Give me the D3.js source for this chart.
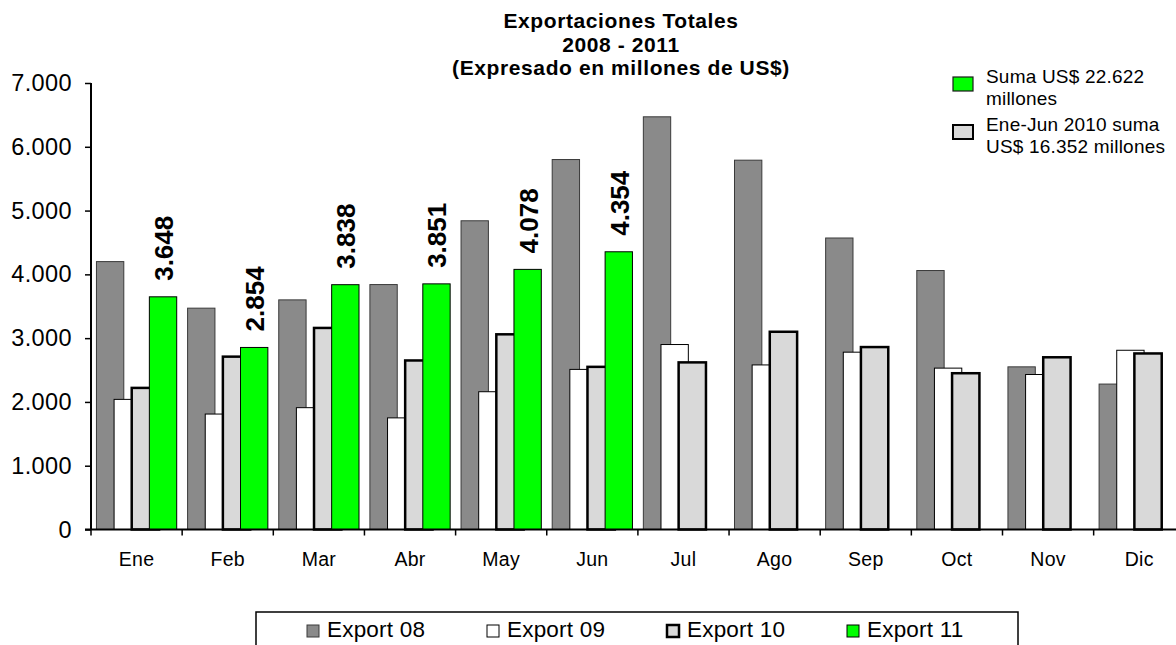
<!DOCTYPE html>
<html>
<head>
<meta charset="utf-8">
<script src="https://cdn.jsdelivr.net/npm/d3@7"></script>
<style>
	body { margin: 0; background: #fff; }
	svg { display: block; font-family: Arial, 'Liberation Sans', sans-serif; }
</style>
</head>
<body>
<svg width="1176" height="645"></svg>
<script>
const months = ['Ene', 'Feb', 'Mar', 'Abr', 'May', 'Jun', 'Jul', 'Ago', 'Sep', 'Oct', 'Nov', 'Dic'];
const series = ['Export 08', 'Export 09', 'Export 10', 'Export 11'];
const export08 = [4200, 3470, 3600, 3840, 4840, 5800, 6470, 5790, 4570, 4060, 2550, 2280];
const export09 = [2040, 1810, 1910, 1750, 2160, 2510, 2900, 2580, 2780, 2530, 2430, 2810];
const export10 = [2220, 2710, 3160, 2650, 3060, 2550, 2620, 3100, 2860, 2450, 2700, 2760];
const export11 = [3648, 2854, 3838, 3851, 4078, 4354, null, null, null, null, null, null];
const yTicks = [0, 1000, 2000, 3000, 4000, 5000, 6000, 7000];
const titleLines = ['Exportaciones Totales', '2008 - 2011', '(Expresado en millones de US$)'];
const noteLines = [['Suma US$ 22.622', 'millones'], ['Ene-Jun 2010 suma', 'US$ 16.352 millones']];

const svg = d3.select('svg');
const fmt = d3.formatLocale({ decimal: ',', thousands: '.', grouping: [3], currency: ['', ''] }).format(',.0f');

const styles = [
	{ fill: '#8a8a8a', stroke: '#3a3a3a', sw: 1 },
	{ fill: '#ffffff', stroke: '#000000', sw: 1 },
	{ fill: '#d9d9d9', stroke: '#000000', sw: 2.5 },
	{ fill: '#00ff00', stroke: '#000000', sw: 1 },
];

const x = d3.scaleBand().domain(months).range([91, 91 + 12 * 91.15]);
const y = d3.scaleLinear().domain([0, 7000]).range([529.5, 83]);

const barW = x.bandwidth() * 0.3;
const step = barW * 0.645;
const groupW = step * 3 + barW;
const offset = (x.bandwidth() - groupW) / 2;

const rows = [export08, export09, export10, export11];

// bars, later series painted over earlier ones
rows.forEach((vals, s) => {
	svg.append('g')
		.selectAll('rect')
		.data(months.map((m, i) => ({ m, v: vals[i] })).filter(d => d.v != null))
		.enter()
		.append('rect')
		.attr('x', d => x(d.m) + offset + s * step)
		.attr('y', d => y(d.v))
		.attr('width', barW)
		.attr('height', d => y(0) - y(d.v))
		.attr('fill', styles[s].fill)
		.attr('stroke', styles[s].stroke)
		.attr('stroke-width', styles[s].sw);
});

// value labels on 2011
svg.append('g')
	.selectAll('text')
	.data(months.map((m, i) => ({ m, v: export11[i] })).filter(d => d.v != null))
	.enter()
	.append('text')
	.attr('transform', d => `translate(${x(d.m) + offset + 3 * step + barW / 2 + 10},${y(d.v) - 16}) rotate(-90)`)
	.attr('font-size', 26)
	.attr('font-weight', 700)
	.text(d => fmt(d.v));

// y axis
const yAxis = svg.append('g')
	.attr('transform', 'translate(91,0)')
	.call(d3.axisLeft(y).tickValues(yTicks).tickFormat(fmt).tickSize(6).tickPadding(13));
yAxis.select('.domain').attr('stroke-width', 2).attr('d', `M0,${y(7000)}V${y(0)}`);
yAxis.selectAll('line').attr('stroke-width', 1.5);
yAxis.selectAll('text')
	.attr('font-size', 23.5)
	.attr('letter-spacing', 0.4)
	.attr('fill', '#000')
	.attr('font-family', 'Arial, Liberation Sans');

// x axis
svg.append('line')
	.attr('x1', 85).attr('x2', 1176)
	.attr('y1', y(0)).attr('y2', y(0))
	.attr('stroke', '#000').attr('stroke-width', 2);

svg.append('g')
	.selectAll('line')
	.data(months)
	.enter()
	.append('line')
	.attr('x1', d => x(d)).attr('x2', d => x(d))
	.attr('y1', y(0)).attr('y2', y(0) + 6)
	.attr('stroke', '#000').attr('stroke-width', 1.5);

svg.append('g')
	.selectAll('text')
	.data(months)
	.enter()
	.append('text')
	.attr('x', d => x(d) + x.bandwidth() / 2)
	.attr('y', 566)
	.attr('text-anchor', 'middle')
	.attr('font-size', 19.5)
	.attr('letter-spacing', 0.3)
	.text(d => d);

// title
svg.append('g')
	.selectAll('text')
	.data(titleLines)
	.enter()
	.append('text')
	.attr('x', 621)
	.attr('y', (d, i) => 28 + i * 23.5)
	.attr('text-anchor', 'middle')
	.attr('font-size', 21)
	.attr('font-weight', 700)
	.attr('letter-spacing', 0.6)
	.text(d => d);

// side notes
const notes = svg.append('g')
	.selectAll('g')
	.data(noteLines)
	.enter()
	.append('g')
	.attr('transform', (d, i) => `translate(953,${77 + i * 48})`);

notes.append('rect')
	.attr('width', 20).attr('height', 14)
	.attr('fill', (d, i) => i == 0 ? '#00ff00' : '#d9d9d9')
	.attr('stroke', (d, i) => i == 0 ? '#1a1a1a' : '#000')
	.attr('stroke-width', (d, i) => i == 0 ? 1.2 : 2);

notes.selectAll('text')
	.data(d => d)
	.enter()
	.append('text')
	.attr('x', 33)
	.attr('y', (d, i) => 6 + i * 21.7)
	.attr('font-size', 19)
	.attr('letter-spacing', 0.2)
	.text(d => d);

// bottom legend
svg.append('rect')
	.attr('x', 256).attr('y', 612)
	.attr('width', 762).attr('height', 40)
	.attr('fill', '#fff')
	.attr('stroke', '#000').attr('stroke-width', 1.5);

const legend = svg.append('g')
	.selectAll('g')
	.data(series)
	.enter()
	.append('g')
	.attr('transform', (d, i) => `translate(${307 + i * 180},625)`);

legend.append('rect')
	.attr('width', 12).attr('height', 12)
	.attr('fill', (d, i) => styles[i].fill)
	.attr('stroke', (d, i) => styles[i].stroke)
	.attr('stroke-width', (d, i) => i == 2 ? 2.5 : 1);

legend.append('text')
	.attr('x', 20)
	.attr('y', 12)
	.attr('font-size', 22.5)
	.attr('letter-spacing', 0.2)
	.text(d => d);
</script>
</body>
</html>
